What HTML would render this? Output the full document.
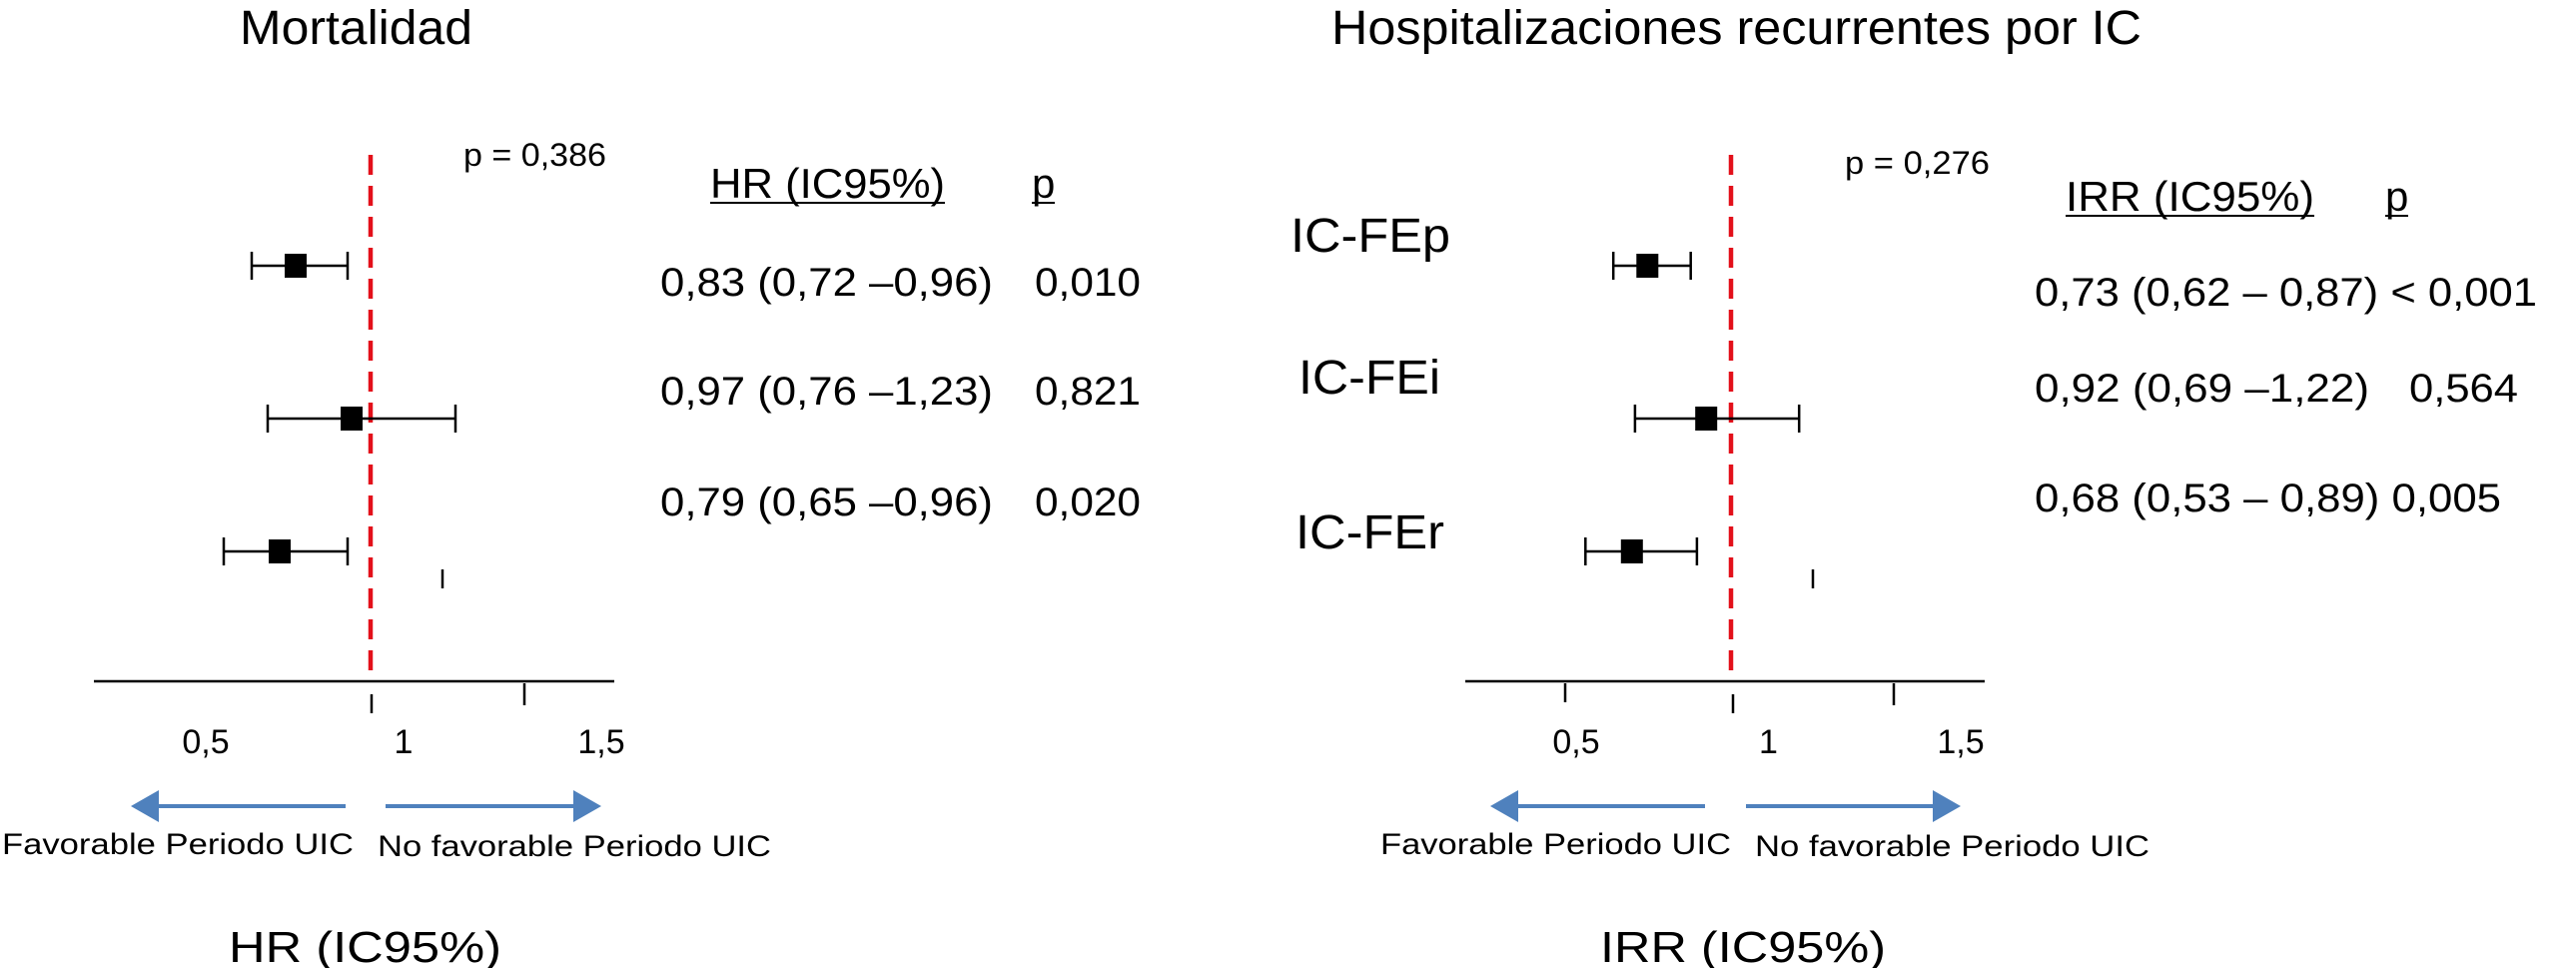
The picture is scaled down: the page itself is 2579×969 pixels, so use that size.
<!DOCTYPE html>
<html><head><meta charset="utf-8"><style>
html,body{margin:0;padding:0;background:#fff;width:2579px;height:969px;overflow:hidden}
svg{display:block}
text{font-family:"Liberation Sans",sans-serif;fill:#000}
</style></head><body>
<svg id="chart" width="2579" height="969" viewBox="0 0 2579 969">
<defs><marker id="ah" markerWidth="8" markerHeight="8" refX="6" refY="4" orient="auto" markerUnits="strokeWidth"><path d="M0,0 L7,4 L0,8 Z" fill="#4f81bd"/></marker></defs>
<g id="left"></g>
<g id="right"></g>
</svg>
<script>
// Mortalidad data
const mortEst=[0.83,0.97,0.79];
const mortLo=[0.72,0.76,0.65];
const mortHi=[0.96,1.23,0.96];
const mortText=["0,83 (0,72 –0,96)","0,97 (0,76 –1,23)","0,79 (0,65 –0,96)"];
const mortP=["0,010","0,821","0,020"];
// Hospitalizaciones data
const hospEst=[0.73,0.92,0.68];
const hospLo=[0.62,0.69,0.53];
const hospHi=[0.87,1.22,0.89];
const hospCats=["IC-FEp","IC-FEi","IC-FEr"];
const hospText=["0,73 (0,62 – 0,87) < 0,001","0,92 (0,69 –1,22)","0,68 (0,53 – 0,89) 0,005"];
const hospP=["","0,564",""];
const tickVals=[0.5,1,1.5];
const tickLabels=["0,5","1","1,5"];

const NS="http://www.w3.org/2000/svg";
function mk(parent,tag,attrs,txt){const e=document.createElementNS(NS,tag);for(const k in attrs)e.setAttribute(k,attrs[k]);if(txt!==undefined)e.textContent=txt;parent.appendChild(e);return e;}

function panel(g,o){
  const x=v=>o.x1+(v-1)*o.k;
  const lx=v=>o.l05+(v-0.5)*o.lk;
  const rowY=[266,419,552];
  let t=mk(g,'text',{x:o.titleX,y:44,'font-size':48,textLength:o.titleW,lengthAdjust:'spacingAndGlyphs'},o.title);
  
  
  let a=mk(g,'line',{x1:o.ax0,x2:o.ax1,y1:682,y2:682,stroke:'#000','stroke-width':2.5});
  
  
  o.ticks.forEach(tk=>{let l=mk(g,'line',{x1:tk[0],x2:tk[0],y1:tk[1],y2:tk[2],stroke:'#000','stroke-width':2.5});
    
    });
  tickVals.forEach((v,i)=>{let e=mk(g,'text',{x:lx(v),y:754,'font-size':34,'text-anchor':'middle'},tickLabels[i]);
    
    });
  let r=mk(g,'line',{x1:o.refX,x2:o.refX,y1:155,y2:672,stroke:'#e3101a','stroke-width':4.5,'stroke-dasharray':'20 11'});
  
  
  o.est.forEach((v,i)=>{
    const y=rowY[i];
    let l=mk(g,'line',{x1:x(o.lo[i]),x2:x(o.hi[i]),y1:y,y2:y,stroke:'#000','stroke-width':2.5});
    
    
    [o.lo[i],o.hi[i]].forEach(b=>{let c=mk(g,'line',{x1:x(b),x2:x(b),y1:y-14,y2:y+14,stroke:'#000','stroke-width':2.5});
      
      });
    let s=mk(g,'rect',{x:x(v)-11,y:y-12,width:22,height:24,fill:'#000'});
    
    
  });
  let p=mk(g,'text',{x:o.pX,y:o.pY,'font-size':32,textLength:o.pW,lengthAdjust:'spacingAndGlyphs'},o.pText);
  
  
  let h=mk(g,'text',{x:o.hX,y:o.hY,'font-size':42,textLength:o.hW,lengthAdjust:'spacingAndGlyphs'},o.hText);
  
  
  mk(g,'line',{x1:o.hX,x2:o.hX+o.hW,y1:o.hY+5,y2:o.hY+5,stroke:'#000','stroke-width':2});
  let hp=mk(g,'text',{x:o.hpX,y:o.hY,'font-size':42},'p');
  
  
  mk(g,'line',{x1:o.hpX,x2:o.hpX+23,y1:o.hY+5,y2:o.hY+5,stroke:'#000','stroke-width':2});
  o.text.forEach((s,i)=>{let e=mk(g,'text',{x:o.tX,y:o.tY[i],'font-size':40,textLength:o.tW[i],lengthAdjust:'spacingAndGlyphs'},s);
    
    
    if(o.pv[i]){let q=mk(g,'text',{x:o.pvX,y:o.tY[i],'font-size':40,textLength:o.pvW,lengthAdjust:'spacingAndGlyphs'},o.pv[i]);
      
      }});
  if(o.cats){o.cats.forEach((c,i)=>{let e=mk(g,'text',{x:o.catX[i],y:o.catY[i],'font-size':48,textLength:o.catW[i],lengthAdjust:'spacingAndGlyphs'},c);
    
    });}
  let al=mk(g,'line',{x1:o.arL[1],x2:o.arL[0]+14,y1:807,y2:807,stroke:'#4f81bd','stroke-width':4,'marker-end':'url(#ah)'});
  
  
  let ar=mk(g,'line',{x1:o.arR[0],x2:o.arR[1]-14,y1:807,y2:807,stroke:'#4f81bd','stroke-width':4,'marker-end':'url(#ah)'});
  
  
  let f1=mk(g,'text',{x:o.fX,y:855,'font-size':30,textLength:o.fW,lengthAdjust:'spacingAndGlyphs'},'Favorable Periodo UIC');
  
  
  let f2=mk(g,'text',{x:o.nX,y:857,'font-size':30,textLength:o.nW,lengthAdjust:'spacingAndGlyphs'},'No favorable Periodo UIC');
  
  
  let b=mk(g,'text',{x:o.bX,y:963,'font-size':44,textLength:o.bW,lengthAdjust:'spacingAndGlyphs'},o.bText);
  
  
}
panel(document.getElementById('left'),{
  title:'Mortalidad',titleX:240,titleW:233,x1:364,k:400,refX:371,l05:206,lk:396,ax0:94,ax1:615,
  ticks:[[372,695,714],[525,684,706],[443,570,589]],
  est:mortEst,lo:mortLo,hi:mortHi,
  pText:'p = 0,386',pX:464,pY:166,pW:143,
  hText:'HR (IC95%)',hX:711,hY:198,hW:235,hpX:1033,
  text:mortText,tX:661,tY:[296,405,516],tW:[333,333,333],pv:mortP,pvX:1036,pvW:106,
  arL:[121,346],arR:[386,612],fX:2,fW:352,nX:378,nW:394,bText:'HR (IC95%)',bX:229,bW:273
});
panel(document.getElementById('right'),{
  title:'Hospitalizaciones recurrentes por IC',titleX:1333,titleW:811,x1:1733,k:310,refX:1733,l05:1578,lk:385,ax0:1467,ax1:1987,
  ticks:[[1567,684,703],[1735,695,714],[1896,684,706],[1815,570,589]],
  est:hospEst,lo:hospLo,hi:hospHi,
  pText:'p = 0,276',pX:1847,pY:174,pW:145,
  hText:'IRR (IC95%)',hX:2068,hY:211,hW:249,hpX:2388,
  text:hospText,tX:2037,tY:[306,402,512],tW:[503,335,467],pv:hospP,pvX:2412,pvW:109,
  cats:hospCats,catX:[1292,1300,1297],catY:[252,394,549],catW:[160,142,149],
  arL:[1482,1707],arR:[1748,1973],fX:1382,fW:351,nX:1757,nW:395,bText:'IRR (IC95%)',bX:1602,bW:286
});
</script>
</body></html>
